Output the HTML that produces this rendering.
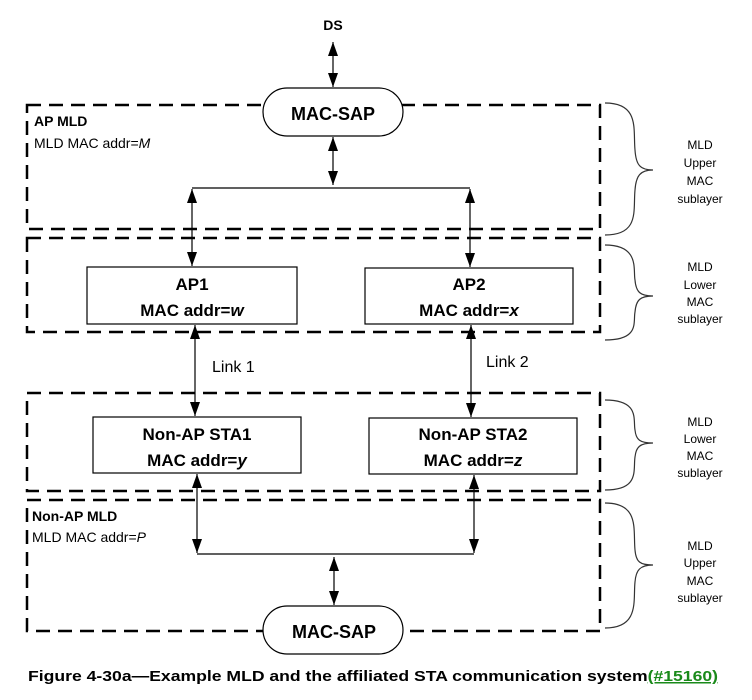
<!DOCTYPE html>
<html><head><style>body{margin:0;background:#fff}svg{display:block}</style></head><body>
<svg width="752" height="700" xmlns="http://www.w3.org/2000/svg" font-family="Liberation Sans, sans-serif">
<defs>
<marker id="a" viewBox="0 0 10 10" refX="10" refY="5" markerWidth="14" markerHeight="10" orient="auto-start-reverse" markerUnits="userSpaceOnUse" preserveAspectRatio="none"><path d="M0,0 L10,5 L0,10 z" fill="#000"/></marker>
</defs>
<g fill="none" stroke="#000" stroke-width="2.5" stroke-dasharray="14,8">
<rect x="27" y="105" width="573" height="124"/>
<rect x="27" y="238" width="573" height="94"/>
<rect x="27" y="393" width="573" height="98"/>
<rect x="27" y="500" width="573" height="131"/>
</g>
<rect x="263" y="88" width="140" height="48" rx="24" fill="#fff" stroke="#000" stroke-width="1.2"/>
<rect x="263" y="606" width="140" height="48" rx="24" fill="#fff" stroke="#000" stroke-width="1.2"/>
<g stroke="#000" stroke-width="1.2" fill="#fff">
<rect x="87" y="267" width="210" height="57"/>
<rect x="365" y="268" width="208" height="56"/>
<rect x="93" y="417" width="208" height="56"/>
<rect x="369" y="418" width="208" height="56"/>
</g>
<g stroke="#000" stroke-width="1.2" fill="none">
<line x1="333" y1="42" x2="333" y2="87" marker-start="url(#a)" marker-end="url(#a)"/>
<line x1="333" y1="137" x2="333" y2="185" marker-start="url(#a)" marker-end="url(#a)"/>
<line x1="192" y1="188" x2="470" y2="188"/>
<line x1="192" y1="189" x2="192" y2="266" marker-start="url(#a)" marker-end="url(#a)"/>
<line x1="470" y1="189" x2="470" y2="267" marker-start="url(#a)" marker-end="url(#a)"/>
<line x1="195" y1="325" x2="195" y2="416" marker-start="url(#a)" marker-end="url(#a)"/>
<line x1="471" y1="325" x2="471" y2="417" marker-start="url(#a)" marker-end="url(#a)"/>
<line x1="197" y1="474" x2="197" y2="553" marker-start="url(#a)" marker-end="url(#a)"/>
<line x1="474" y1="475" x2="474" y2="553" marker-start="url(#a)" marker-end="url(#a)"/>
<line x1="197" y1="554" x2="474" y2="554"/>
<line x1="334" y1="557" x2="334" y2="605" marker-start="url(#a)" marker-end="url(#a)"/>
</g>
<g stroke="#333" stroke-width="1.2" fill="none">
<path d="M605,103 C640,103 633,130 635,150 C636,165 640,170 653,170 C640,170 636,176 635,190 C633,210 640,235 605,235"/>
<path d="M605,245 C640,245 633,270 635,280 C636,292 640,296 653,296 C640,296 636,300 635,312 C633,322 640,340 605,340"/>
<path d="M605,400 C640,400 633,420 635,430 C636,440 640,443 653,443 C640,443 636,447 635,457 C633,470 640,490 605,490"/>
<path d="M605,503 C640,503 633,530 635,550 C636,562 640,565 653,565 C640,565 636,570 635,582 C633,600 640,628 605,628"/>
</g>
<g font-size="12" text-anchor="middle" fill="#000">
<text x="700" y="149">MLD</text><text x="700" y="167">Upper</text><text x="700" y="185">MAC</text><text x="700" y="203">sublayer</text>
<text x="700" y="271">MLD</text><text x="700" y="289">Lower</text><text x="700" y="306">MAC</text><text x="700" y="323">sublayer</text>
<text x="700" y="426">MLD</text><text x="700" y="443">Lower</text><text x="700" y="460">MAC</text><text x="700" y="477">sublayer</text>
<text x="700" y="550">MLD</text><text x="700" y="567">Upper</text><text x="700" y="585">MAC</text><text x="700" y="602">sublayer</text>
</g>
<g font-weight="bold" fill="#000" text-anchor="middle">
<text x="333" y="30" font-size="14">DS</text>
<text x="333" y="120" font-size="18">MAC-SAP</text>
<text x="334" y="638" font-size="18">MAC-SAP</text>
<text x="192" y="290" font-size="17">AP1</text>
<text x="192" y="316" font-size="17">MAC addr=<tspan font-style="italic">w</tspan></text>
<text x="469" y="290" font-size="17">AP2</text>
<text x="469" y="316" font-size="17">MAC addr=<tspan font-style="italic">x</tspan></text>
<text x="197" y="440" font-size="17">Non-AP STA1</text>
<text x="197" y="466" font-size="17">MAC addr=<tspan font-style="italic">y</tspan></text>
<text x="473" y="440" font-size="17">Non-AP STA2</text>
<text x="473" y="466" font-size="17">MAC addr=<tspan font-style="italic">z</tspan></text>
</g>
<g fill="#000" font-size="14">
<text x="34" y="126" font-weight="bold">AP MLD</text>
<text x="34" y="148">MLD MAC addr=<tspan font-style="italic">M</tspan></text>
<text x="32" y="521" font-weight="bold">Non-AP MLD</text>
<text x="32" y="542">MLD MAC addr=<tspan font-style="italic">P</tspan></text>
<text x="212" y="372" font-size="16">Link 1</text>
<text x="486" y="367" font-size="16">Link 2</text>
</g>
<text x="28" y="681" font-size="15" font-weight="bold" fill="#000" textLength="690" lengthAdjust="spacingAndGlyphs">Figure 4-30a—Example MLD and the affiliated STA communication system<tspan fill="#1a8a1a" text-decoration="underline">(#15160)</tspan></text>
</svg>
</body></html>
